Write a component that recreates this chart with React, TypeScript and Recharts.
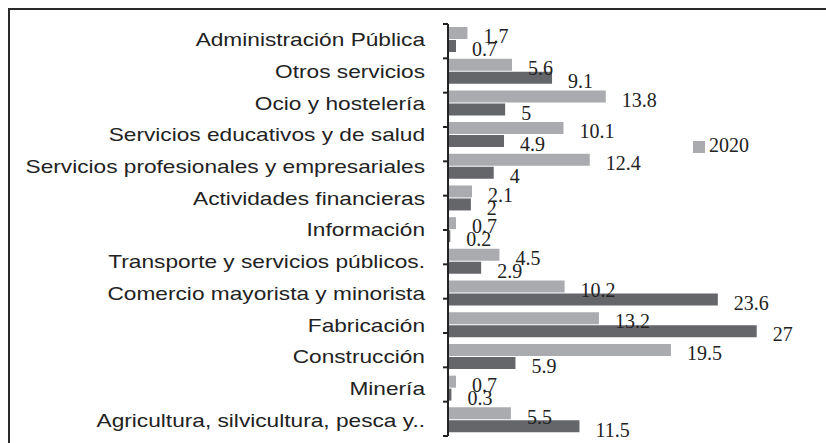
import { BarChart, Bar, XAxis, YAxis, Legend, LabelList } from "recharts";

const categories = [
  "Administración Pública",
  "Otros servicios",
  "Ocio y hostelería",
  "Servicios educativos y de salud",
  "Servicios profesionales y empresariales",
  "Actividades financieras",
  "Información",
  "Transporte y servicios públicos.",
  "Comercio mayorista y minorista",
  "Fabricación",
  "Construcción",
  "Minería",
  "Agricultura, silvicultura, pesca y..",
];

const values2020 = [1.7, 5.6, 13.8, 10.1, 12.4, 2.1, 0.7, 4.5, 10.2, 13.2, 19.5, 0.7, 5.5];
const valuesOther = [0.7, 9.1, 5, 4.9, 4, 2, 0.2, 2.9, 23.6, 27, 5.9, 0.3, 11.5];

const edgeTicks = [0, 1, 2, 3, 4, 5, 6, 7, 8, 9, 10, 11, 12, 13];

const data = categories.map((name, i) => ({
  name,
  y2020: values2020[i],
  other: valuesOther[i],
}));

const LIGHT = "#aaabaf";
const DARK = "#65666a";
const INK = "#222";

// category label, stretched sideways like the original export
function CategoryTick(props: any) {
  const { x, y, payload } = props;
  return (
    <g transform={`translate(${x},${y}) scale(1.26,1)`}>
      <text
        x={0}
        y={0}
        dy="0.36em"
        textAnchor="end"
        fontFamily="Liberation Sans, Arial, sans-serif"
        fontSize={18}
        fill={INK}
      >
        {payload.value}
      </text>
    </g>
  );
}

function ValueLabel(props: any) {
  const vb = props.viewBox ?? props;
  const x = vb.x ?? props.x;
  const y = vb.y ?? props.y;
  const w = vb.width ?? props.width;
  const h = vb.height ?? props.height;
  return (
    <text
      x={x + w + 16}
      y={y + h / 2 + 3}
      dy="0.36em"
      fontFamily="Liberation Serif, serif"
      fontSize={20}
      fill={INK}
    >
      {props.value}
    </text>
  );
}

export default function App() {
  return (
    <div style={{ position: "relative", width: 826, height: 443, overflow: "hidden", background: "#fff" }}>
      <style>{`body{margin:0;overflow:hidden}`}</style>
      <div
        style={{
          position: "absolute",
          left: 8,
          top: 8,
          width: 840,
          height: 460,
          borderTop: "2px solid #2a2a2a",
          borderLeft: "2px solid #2a2a2a",
        }}
      />
      <div style={{ position: "absolute", left: 0, top: 0 }}>
        <BarChart
          width={826}
          height={443}
          data={data}
          layout="vertical"
          margin={{ top: 24, right: 35, bottom: 7, left: 0 }}
          barGap={1}
        >
          <XAxis type="number" domain={[0, 30]} hide />
          <YAxis
            yAxisId="cat"
            type="category"
            dataKey="name"
            width={448}
            axisLine={false}
            tickLine={false}
            tickSize={5}
            tickMargin={18}
            interval={0}
            tick={<CategoryTick />}
          />
          {/* category borders, drawn as an inside axis with ticks turned outward */}
          <YAxis
            yAxisId="edge"
            type="number"
            orientation="left"
            mirror
            domain={[0, 13]}
            allowDataOverflow
            ticks={edgeTicks}
            interval={0}
            tick={() => <g />}
            tickSize={-5}
            width={2}
            axisLine={{ stroke: INK, strokeWidth: 2 }}
            tickLine={{ stroke: INK, strokeWidth: 2 }}
          />
          <Legend
            layout="vertical"
            align="center"
            verticalAlign="middle"
            iconType="square"
            iconSize={12}
            wrapperStyle={{
              left: 693,
              top: 134,
              width: 80,
              fontFamily: "Liberation Serif, serif",
              fontSize: 20,
            }}
            formatter={(value: any) => <span style={{ color: INK }}>{value}</span>}
          />
          <Bar
            yAxisId="cat"
            dataKey="y2020"
            name="2020"
            fill={LIGHT}
            barSize={12}
            isAnimationActive={false}
          >
            <LabelList dataKey="y2020" content={<ValueLabel />} />
          </Bar>
          <Bar
            yAxisId="cat"
            dataKey="other"
            name="2019"
            fill={DARK}
            barSize={12}
            legendType="none"
            isAnimationActive={false}
          >
            <LabelList dataKey="other" content={<ValueLabel />} />
          </Bar>
        </BarChart>
      </div>
    </div>
  );
}
